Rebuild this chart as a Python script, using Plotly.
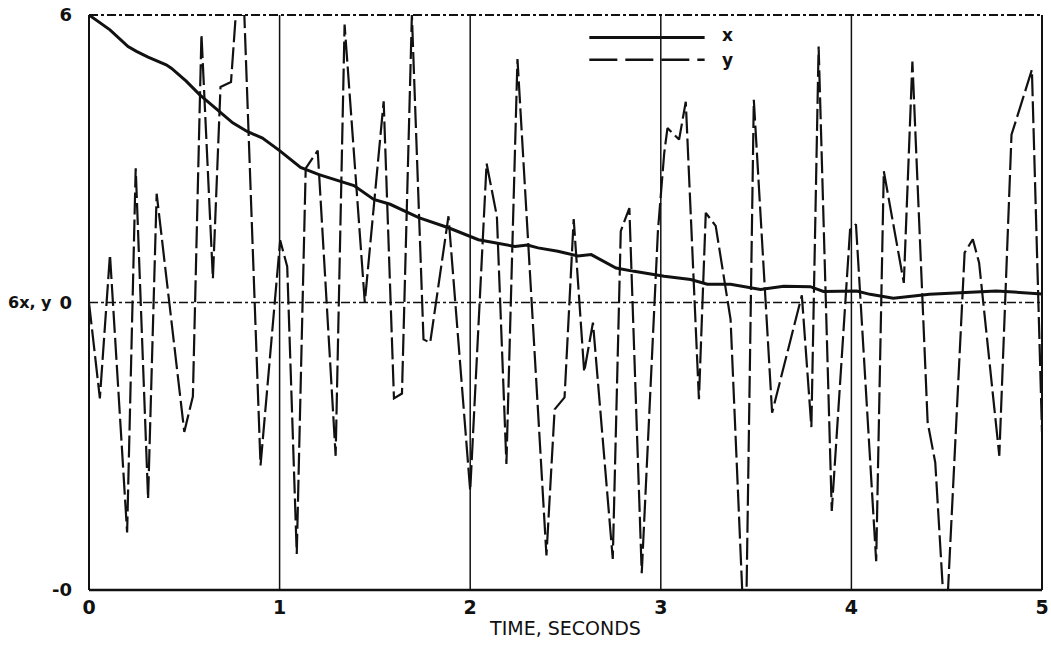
import plotly.graph_objects as go

# ---- data ----
t_x = [0, 0.11, 0.205, 0.249, 0.31, 0.405, 0.432, 0.51, 0.58, 0.684, 0.754, 0.83, 0.91, 1.0,
       1.11, 1.207, 1.311, 1.39, 1.494, 1.58, 1.73, 1.886, 2.043, 2.147, 2.235, 2.30, 2.356,
       2.46, 2.565, 2.635, 2.765, 2.86, 3.018, 3.157, 3.244, 3.366, 3.523, 3.645, 3.784,
       3.853, 4.028, 4.098, 4.22, 4.41, 4.585, 4.76, 5.0]
x_vals = [6.0, 5.69, 5.34, 5.24, 5.12, 4.96, 4.89, 4.62, 4.34, 3.99, 3.75, 3.57, 3.43, 3.17,
          2.82, 2.67, 2.53, 2.44, 2.15, 2.05, 1.77, 1.56, 1.31, 1.24, 1.17, 1.2, 1.14,
          1.07, 0.97, 1.0, 0.72, 0.65, 0.55, 0.48, 0.38, 0.38, 0.27, 0.34, 0.33,
          0.23, 0.24, 0.17, 0.09, 0.17, 0.2, 0.24, 0.18]

t_y = [0, 0.057, 0.11, 0.20, 0.245, 0.31, 0.355, 0.50, 0.545, 0.59, 0.65, 0.69, 0.745, 0.77,
       0.815, 0.90, 1.003, 1.04, 1.09, 1.137, 1.20, 1.294, 1.341, 1.447, 1.546, 1.60, 1.642,
       1.694, 1.755, 1.79, 1.886, 2.0, 2.086, 2.14, 2.19, 2.248, 2.40, 2.443, 2.495, 2.543,
       2.598, 2.644, 2.748, 2.79, 2.835, 2.9, 2.985, 3.018, 3.035, 3.096, 3.131, 3.20, 3.236,
       3.288, 3.366, 3.427, 3.45, 3.488, 3.584, 3.74, 3.79, 3.828, 3.897, 3.993, 4.024, 4.13,
       4.17, 4.275, 4.32, 4.40, 4.44, 4.48, 4.507, 4.594, 4.637, 4.67, 4.776, 4.84, 4.947, 5.0]
y_vals = [0.0, -2.0, 1.0, -4.8, 2.8, -4.1, 2.27, -2.7, -1.96, 5.6, 0.5, 4.5, 4.6, 6.0,
          6.0, -3.4, 1.3, 0.75, -5.25, 2.8, 3.17, -3.2, 5.8, 0.0, 4.2, -2.0, -1.9,
          6.0, -0.77, -0.84, 1.8, -3.93, 2.9, 1.8, -3.37, 5.08, -5.28, -2.23, -1.98, 1.74,
          -1.45, -0.42, -5.35, 1.49, 1.97, -5.65, 1.5, 3.12, 3.64, 3.4, 4.19, -2.02, 1.87,
          1.6, -0.35, -6.0, -6.0, 4.23, -2.3, 0.15, -2.6, 5.34, -4.35, 1.52, 1.63, -5.4,
          2.74, 0.41, 5.03, -2.5, -3.34, -6.0, -6.0, 1.04, 1.32, 0.83, -3.2, 3.5, 4.86, -2.7]

x_tick_vals = [0, 1, 2, 3, 4, 5]
x_tick_text = ["0", "1", "2", "3", "4", "5"]
y_tick_vals = [6, 0, -6]
y_tick_text = ["6", "0", "-0"]
series_names = ["x", "y"]

FONT = "Liberation Sans"
TFONT = "DejaVu Sans"
INK = "#111111"

fig = go.Figure()
fig.add_trace(go.Scatter(x=t_x, y=x_vals, mode="lines", name=series_names[0],
                         line=dict(color=INK, width=3), showlegend=False))
fig.add_trace(go.Scatter(x=t_y, y=y_vals, mode="lines", name=series_names[1],
                         line=dict(color=INK, width=2.2, dash="22px,5px"), showlegend=False,
                         cliponaxis=False))

shapes = []
# vertical grid lines
for v in x_tick_vals[1:-1]:
    shapes.append(dict(type="line", xref="x", yref="paper", x0=v, x1=v, y0=0, y1=1,
                       line=dict(color=INK, width=1.5)))
# zero line (dash-dot)
shapes.append(dict(type="line", xref="paper", yref="y", x0=0, x1=1, y0=0, y1=0,
                   line=dict(color=INK, width=1.5, dash="dashdot")))
# frame
shapes.append(dict(type="line", xref="paper", yref="paper", x0=0, x1=0, y0=0, y1=1,
                   line=dict(color=INK, width=2)))
shapes.append(dict(type="line", xref="paper", yref="paper", x0=1, x1=1, y0=0, y1=1,
                   line=dict(color=INK, width=2)))
shapes.append(dict(type="line", xref="paper", yref="paper", x0=0, x1=1, y0=0, y1=0,
                   line=dict(color=INK, width=2.5)))
shapes.append(dict(type="line", xref="paper", yref="paper", x0=0, x1=1, y0=1, y1=1,
                   line=dict(color=INK, width=2, dash="dashdot")))
# hand-drawn legend samples
shapes.append(dict(type="line", xref="paper", yref="paper", x0=0.525, x1=0.646, y0=0.961, y1=0.961,
                   line=dict(color=INK, width=3)))
shapes.append(dict(type="line", xref="paper", yref="paper", x0=0.525, x1=0.646, y0=0.922, y1=0.922,
                   line=dict(color=INK, width=2.5, dash="28px,8px")))

annotations = [
    dict(xref="paper", yref="paper", x=0.662, y=0.965, text=series_names[0], showarrow=False,
         xanchor="left", yanchor="middle", font=dict(family=TFONT, size=17, color=INK, weight="bold")),
    dict(xref="paper", yref="paper", x=0.662, y=0.922, text=series_names[1], showarrow=False,
         xanchor="left", yanchor="middle", font=dict(family=TFONT, size=17, color=INK, weight="bold")),
    dict(xref="paper", yref="y", x=-0.087, y=0, text="6x, y", showarrow=False,
         xanchor="left", yanchor="middle", font=dict(family=TFONT, size=16, color=INK, weight="bold")),
]

fig.update_layout(
    width=1051, height=652,
    margin=dict(l=89, r=9, t=15, b=62, autoexpand=False),
    paper_bgcolor="white", plot_bgcolor="white",
    font=dict(family=FONT, size=17, color=INK),
    shapes=shapes, annotations=annotations,
    xaxis=dict(range=[0, 5], tickvals=x_tick_vals, ticktext=x_tick_text, showgrid=False,
               zeroline=False, showline=False, ticks="", ticklabelstandoff=4,
               ticklabeloverflow="allow", automargin=False,
               tickfont=dict(family=TFONT, size=19, color=INK, weight="bold"),
               title=dict(text="TIME, SECONDS", standoff=4,
                          font=dict(family=TFONT, size=19, color=INK))),
    yaxis=dict(range=[-6, 6], tickvals=y_tick_vals, ticktext=y_tick_text, showgrid=False,
               zeroline=False, showline=False, ticks="", ticklabelstandoff=16,
               automargin=False,
               tickfont=dict(family=TFONT, size=18, color=INK, weight="bold")),
    showlegend=False,
)

fig.write_html("out.html")
